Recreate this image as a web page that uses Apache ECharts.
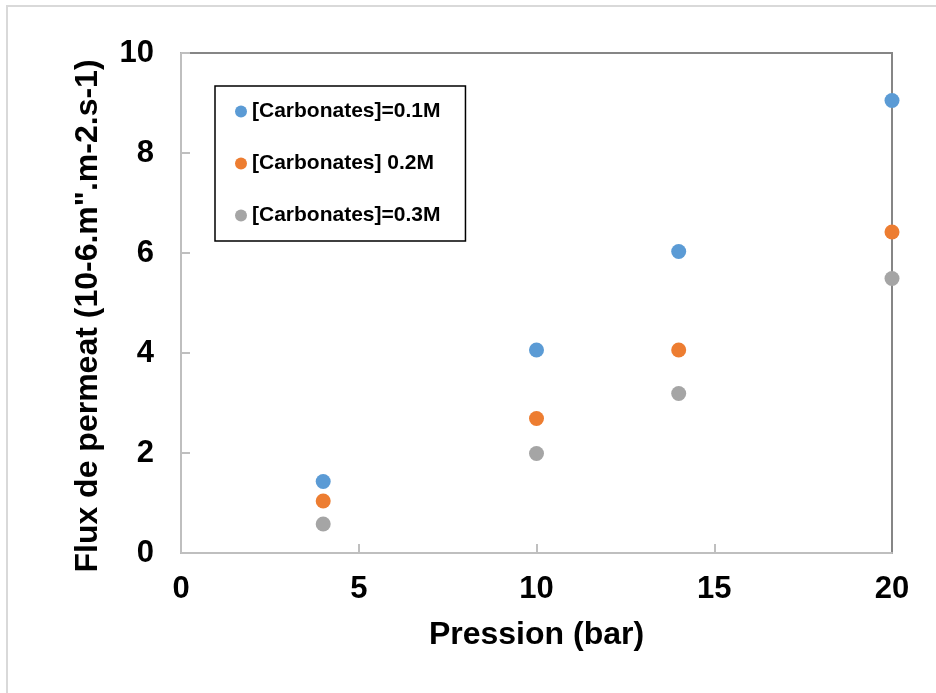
<!DOCTYPE html>
<html>
<head>
<meta charset="utf-8">
<script src="https://cdn.jsdelivr.net/npm/echarts@6/dist/echarts.min.js"></script>
<style>html,body{margin:0;padding:0;background:#fff}#c{width:936px;height:693px}</style>
</head>
<body>
<div id="c"></div>
<script>
var pressures = [4, 10, 14, 20];
var seriesNames = ['[Carbonates]=0.1M', '[Carbonates] 0.2M', '[Carbonates]=0.3M'];
var flux01 = [1.43, 4.06, 6.03, 9.05];
var flux02 = [1.04, 2.69, 4.06, 6.42];
var flux03 = [0.58, 1.99, 3.19, 5.49];
var xTicks = [0, 5, 10, 15, 20];
var yTicks = [0, 2, 4, 6, 8, 10];
var colors = ['#5b9bd5', '#ed7d31', '#a5a5a5'];

var FONT = '"Liberation Sans", Arial, sans-serif';
function pairs(ys) { return pressures.map(function (x, i) { return [x, ys[i]]; }); }
var allSeries = [flux01, flux02, flux03];

var chart = echarts.init(document.getElementById('c'));
chart.setOption({
  animation: false,
  backgroundColor: '#fff',
  graphic: [{
    type: 'rect', silent: true, z: -10,
    shape: { x: 7, y: 6, width: 940, height: 700 },
    style: { fill: 'none', stroke: '#d9d9d9', lineWidth: 2 }
  }],
  grid: {
    left: 181, right: 44, top: 53, bottom: 140,
    show: true, borderColor: '#868686', borderWidth: 2, backgroundColor: 'transparent'
  },
  legend: {
    orient: 'vertical',
    left: 215, top: 86,
    padding: [15, 25, 15, 20],
    itemGap: 31,
    itemWidth: 12, itemHeight: 12,
    borderColor: '#000', borderWidth: 1.5,
    icon: 'circle',
    textStyle: { fontFamily: FONT, fontWeight: 'bold', fontSize: 21, color: '#000', lineHeight: 20 },
    data: seriesNames.map(function (n, i) { return { name: n, itemStyle: { color: colors[i], opacity: 1 } }; })
  },
  xAxis: {
    type: 'value', min: 0, max: 20, interval: 5,
    name: 'Pression (bar)', nameLocation: 'middle', nameGap: 66,
    nameTextStyle: { fontFamily: FONT, fontWeight: 'bold', fontSize: 32, color: '#000' },
    axisLine: { show: true, lineStyle: { color: '#bfbfbf', width: 2 } },
    axisTick: { show: true, inside: true, length: 9, customValues: xTicks.slice(0, xTicks.length - 1), lineStyle: { color: '#bfbfbf', width: 2 } },
    axisLabel: {
      fontFamily: FONT, fontWeight: 'bold', fontSize: 31, color: '#000', margin: 21,
      formatter: function (v) { return xTicks.indexOf(v) >= 0 ? String(v) : ''; }
    },
    splitLine: { show: false }
  },
  yAxis: {
    type: 'value', min: 0, max: 10, interval: 2,
    name: 'Flux de permeat (10-6.m".m-2.s-1)', nameLocation: 'middle', nameGap: 77,
    nameTextStyle: { fontFamily: FONT, fontWeight: 'bold', fontSize: 32, color: '#000', padding: [0, 26, 0, 0] },
    axisLine: { show: true, lineStyle: { color: '#bfbfbf', width: 2 } },
    axisTick: { show: true, inside: true, length: 9, lineStyle: { color: '#bfbfbf', width: 2 } },
    axisLabel: {
      fontFamily: FONT, fontWeight: 'bold', fontSize: 31, color: '#000', margin: 27,
      formatter: function (v) { return yTicks.indexOf(v) >= 0 ? String(v) : ''; }
    },
    splitLine: { show: false }
  },
  series: seriesNames.map(function (n, i) {
    return {
      name: n, type: 'scatter', symbol: 'circle', symbolSize: 15,
      itemStyle: { color: colors[i], opacity: 1 },
      data: pairs(allSeries[i]), z: 3
    };
  })
});
</script>
</body>
</html>
